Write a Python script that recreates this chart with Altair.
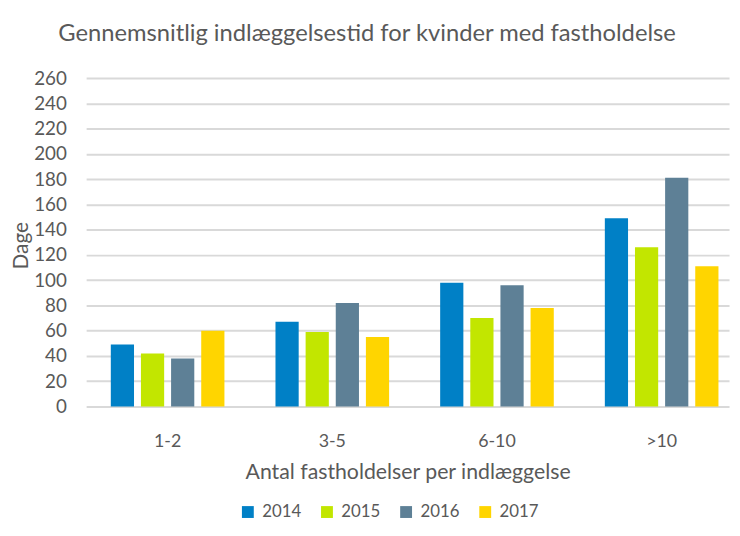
import altair as alt
import pandas as pd

categories = ["1-2", "3-5", "6-10", ">10"]
years = ["2014", "2015", "2016", "2017"]
values_2014 = [49, 67, 98, 149]
values_2015 = [42, 59, 70, 126]
values_2016 = [38, 82, 96, 181]
values_2017 = [60, 55, 78, 111]
colors = ["#0080C6", "#C2E600", "#5E8096", "#FFD500"]

rows = []
for y, vals in zip(years, [values_2014, values_2015, values_2016, values_2017]):
    for c, v in zip(categories, vals):
        rows.append({"Kategori": c, "År": y, "Dage": v})
df = pd.DataFrame(rows)

FONT = "Lato"
GREY = "#595959"

chart = alt.Chart(df).mark_bar().encode(
    x=alt.X("Kategori:N", sort=categories,
            scale=alt.Scale(paddingInner=0.31, paddingOuter=0.107, align=0.7),
            axis=alt.Axis(title="Antal fastholdelser per indlæggelse", labelAngle=0,
                          domain=False, ticks=False, tickSize=0, labelPadding=36,
                          labelBaseline="middle",
                          labelFontSize=18, titleFontSize=21.5, titleFontWeight="normal",
                          titleBaseline="middle", titleY=67)),
    xOffset=alt.XOffset("År:N", sort=years,
                        scale=alt.Scale(paddingInner=0.23, paddingOuter=0)),
    y=alt.Y("Dage:Q", scale=alt.Scale(domain=[0, 260], nice=False),
            axis=alt.Axis(values=list(range(0, 261, 20)), title="Dage",
                          domain=False, ticks=False, tickSize=0, labelPadding=20,
                          labelFontSize=19, titleFontSize=21, titleFontWeight="normal",
                          titleAngle=270, titleBaseline="middle", titleX=-65, titleY=169,
                          gridColor="#D9D9D9", gridWidth=2)),
    color=alt.Color("År:N", sort=years,
                    scale=alt.Scale(domain=years, range=colors),
                    legend=alt.Legend(title=None, orient="none", direction="horizontal",
                                      legendX=155, legendY=430,
                                      symbolType="square", symbolSize=144,
                                      symbolStrokeWidth=0, labelFontSize=17,
                                      labelOffset=6, columnPadding=17)),
).properties(
    width=650, height=332,
    autosize=alt.AutoSizeParams(type="none"),
    padding={"left": 79, "top": 68, "right": 3, "bottom": 116},
    title=alt.Title("Gennemsnitlig indlæggelsestid for kvinder med fastholdelse",
                    fontSize=24, fontWeight="normal", color=GREY, anchor="middle",
                    frame="group", dx=-41, offset=23, font=FONT),
).configure_axis(
    labelColor=GREY, titleColor=GREY, labelFont=FONT, titleFont=FONT,
).configure_axisX(grid=False).configure_legend(
    labelColor=GREY, labelFont=FONT,
).configure_view(stroke=None)

chart.save("out.html", embed_options={"renderer": "svg", "actions": False})
